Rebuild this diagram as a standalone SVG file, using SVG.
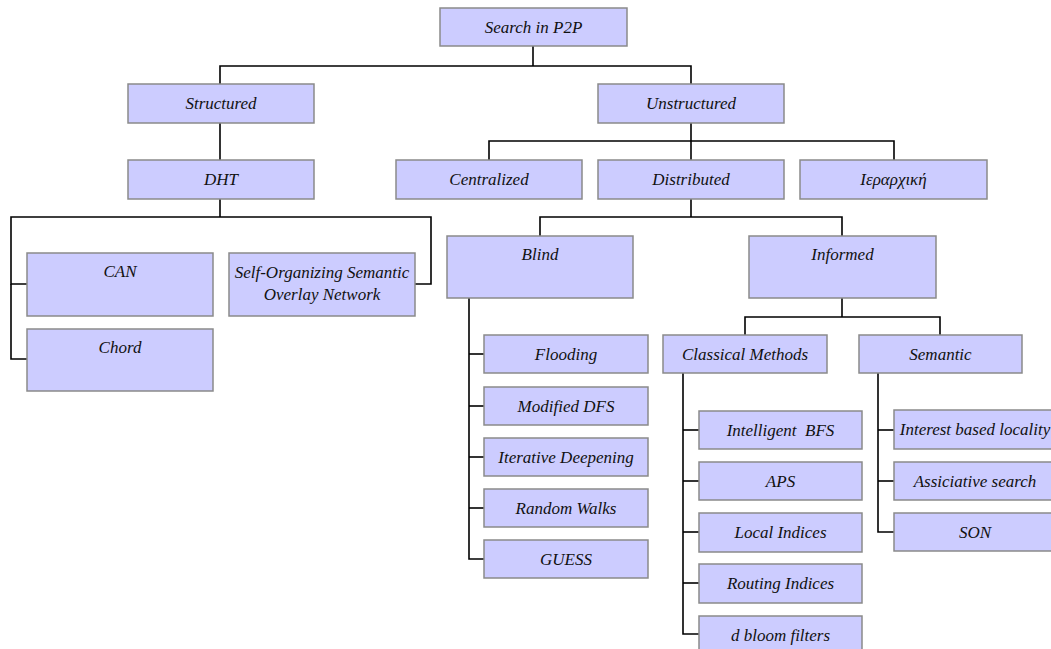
<svg xmlns="http://www.w3.org/2000/svg" width="1051" height="649" viewBox="0 0 1051 649">
  <style>
    .box { fill: #ccccff; stroke: #8a8a8a; stroke-width: 1.5; }
    .lbl { font-family: "Liberation Serif", "Times New Roman", serif; font-style: italic; font-size: 17px; fill: #111; text-anchor: middle; }
    .wire { fill: none; stroke: #000; stroke-width: 1.6; }
  </style>
  <rect width="1051" height="649" fill="#ffffff"/>

  <!-- connectors -->
  <g id="connectors">
    <polyline class="wire" points="533,46 533,66"/>
    <polyline class="wire" points="220,84 220,66 691,66 691,84"/>
    <polyline class="wire" points="220,123 220,160"/>
    <polyline class="wire" points="220,199 220,217"/>
    <polyline class="wire" points="27,284 11,284 11,217 431,217 431,284 415,284"/>
    <polyline class="wire" points="11,284 11,359 27,359"/>
    <polyline class="wire" points="691,123 691,160"/>
    <polyline class="wire" points="489,160 489,141 894,141 894,160"/>
    <polyline class="wire" points="691,199 691,217"/>
    <polyline class="wire" points="540,236 540,217 842,217 842,236"/>
    <polyline class="wire" points="469,298 469,559 484,559"/>
    <polyline class="wire" points="469,354 484,354"/>
    <polyline class="wire" points="469,406 484,406"/>
    <polyline class="wire" points="469,457 484,457"/>
    <polyline class="wire" points="469,508 484,508"/>
    <polyline class="wire" points="842,298 842,317"/>
    <polyline class="wire" points="745,335 745,317 940,317 940,335"/>
    <polyline class="wire" points="683,373 683,634 699,634"/>
    <polyline class="wire" points="683,430 699,430"/>
    <polyline class="wire" points="683,481 699,481"/>
    <polyline class="wire" points="683,532 699,532"/>
    <polyline class="wire" points="683,583 699,583"/>
    <polyline class="wire" points="878,373 878,532 894,532"/>
    <polyline class="wire" points="878,430 894,430"/>
    <polyline class="wire" points="878,481 894,481"/>
  </g>

  <g id="search-p2p"><rect class="box" x="440" y="8" width="187" height="38"/><text class="lbl" x="533.5" y="32.5">Search in P2P</text></g>
  <g id="structured"><rect class="box" x="128" y="84" width="186" height="39"/><text class="lbl" x="221" y="108.5">Structured</text></g>
  <g id="unstructured"><rect class="box" x="598" y="84" width="186" height="39"/><text class="lbl" x="691" y="108.5">Unstructured</text></g>
  <g id="dht"><rect class="box" x="128" y="160" width="186" height="39"/><text class="lbl" x="221" y="184.5">DHT</text></g>
  <g id="centralized"><rect class="box" x="396" y="160" width="186" height="39"/><text class="lbl" x="489" y="184.5">Centralized</text></g>
  <g id="distributed"><rect class="box" x="598" y="160" width="186" height="39"/><text class="lbl" x="691" y="184.5">Distributed</text></g>
  <g id="hierarchical"><rect class="box" x="800" y="160" width="187" height="39"/><text class="lbl" x="893.5" y="184.5">Ιεραρχική</text></g>

  <g id="can"><rect class="box" x="27" y="253" width="186" height="63"/><text class="lbl" x="120" y="277">CAN</text></g>
  <g id="chord"><rect class="box" x="27" y="329" width="186" height="62"/><text class="lbl" x="120" y="353">Chord</text></g>
  <g id="sosn"><rect class="box" x="229" y="253" width="186" height="63"/><text class="lbl" x="322" y="278">Self-Organizing Semantic</text><text class="lbl" x="322" y="300">Overlay Network</text></g>

  <g id="blind"><rect class="box" x="447" y="236" width="186" height="62"/><text class="lbl" x="540" y="260">Blind</text></g>
  <g id="informed"><rect class="box" x="749" y="236" width="187" height="62"/><text class="lbl" x="842.5" y="260">Informed</text></g>

  <g id="flooding"><rect class="box" x="484" y="335" width="164" height="38"/><text class="lbl" x="566" y="359.5">Flooding</text></g>
  <g id="modified-dfs"><rect class="box" x="484" y="387" width="164" height="38"/><text class="lbl" x="566" y="411.5">Modified DFS</text></g>
  <g id="iterative-deepening"><rect class="box" x="484" y="438" width="164" height="38"/><text class="lbl" x="566" y="462.5">Iterative Deepening</text></g>
  <g id="random-walks"><rect class="box" x="484" y="489" width="164" height="38"/><text class="lbl" x="566" y="513.5">Random Walks</text></g>
  <g id="guess"><rect class="box" x="484" y="540" width="164" height="38"/><text class="lbl" x="566" y="564.5">GUESS</text></g>

  <g id="classical-methods"><rect class="box" x="663" y="335" width="164" height="38"/><text class="lbl" x="745" y="359.5">Classical Methods</text></g>
  <g id="semantic"><rect class="box" x="859" y="335" width="163" height="38"/><text class="lbl" x="940.5" y="359.5">Semantic</text></g>

  <g id="intelligent-bfs"><rect class="box" x="699" y="411" width="163" height="38"/><text class="lbl" x="780.5" y="435.5" xml:space="preserve">Intelligent  BFS</text></g>
  <g id="aps"><rect class="box" x="699" y="462" width="163" height="38"/><text class="lbl" x="780.5" y="486.5">APS</text></g>
  <g id="local-indices"><rect class="box" x="699" y="513" width="163" height="39"/><text class="lbl" x="780.5" y="537.5">Local Indices</text></g>
  <g id="routing-indices"><rect class="box" x="699" y="564" width="163" height="39"/><text class="lbl" x="780.5" y="588.5">Routing Indices</text></g>
  <g id="bloom-filters"><rect class="box" x="699" y="616" width="163" height="39"/><text class="lbl" x="780.5" y="640.5">d bloom filters</text></g>

  <g id="interest-locality"><rect class="box" x="894" y="410" width="163" height="39"/><text class="lbl" x="975" y="434.5">Interest based locality</text></g>
  <g id="associative-search"><rect class="box" x="894" y="462" width="163" height="38"/><text class="lbl" x="975" y="486.5">Assiciative search</text></g>
  <g id="son"><rect class="box" x="894" y="513" width="163" height="38"/><text class="lbl" x="975" y="537.5">SON</text></g>
</svg>
